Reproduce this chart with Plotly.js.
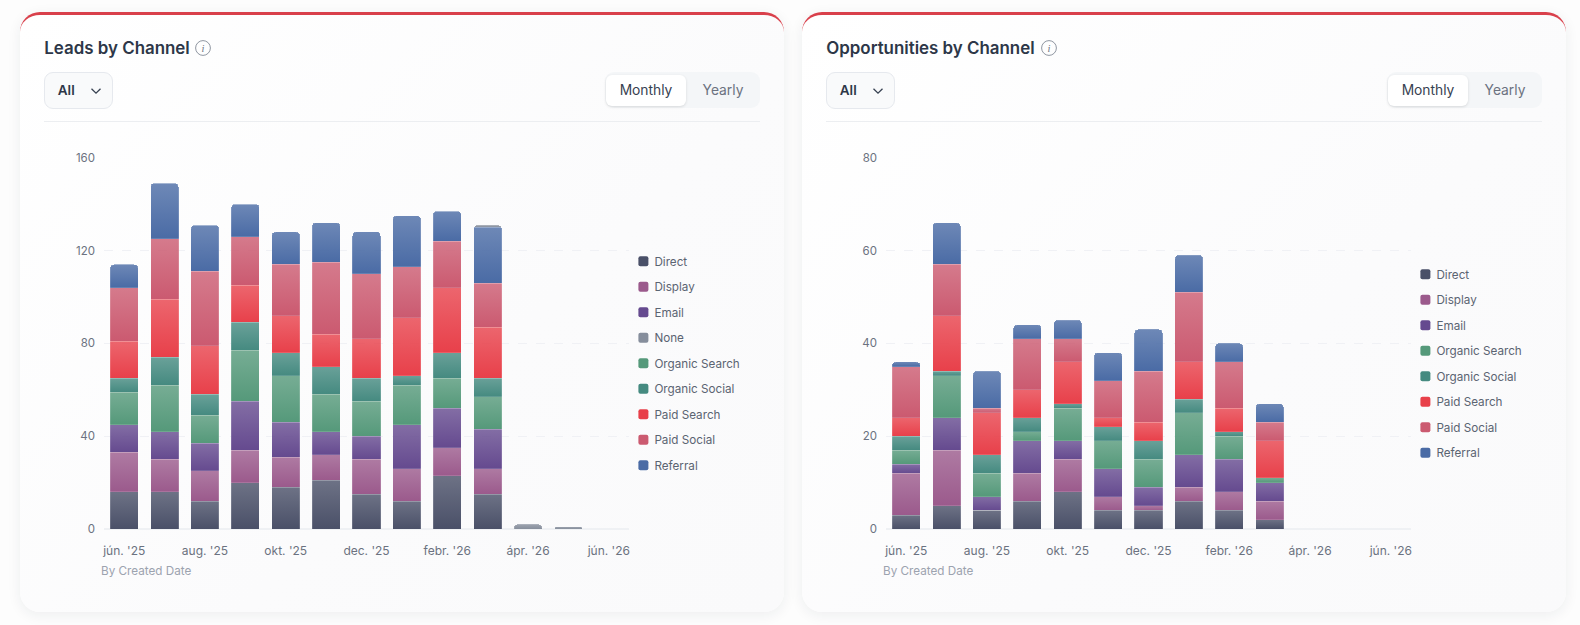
<!DOCTYPE html>
<html><head><meta charset="utf-8">
<script src="https://cdn.plot.ly/plotly-3.0.1.min.js"></script>
<style>
html,body{margin:0;padding:0;width:1580px;height:625px;overflow:hidden;background:#fdfdfd;font-family:Inter,sans-serif}
.card{position:absolute;top:12px;width:764px;height:600px;box-sizing:border-box;border-top:3px solid #d9404b;border-radius:20px;background:linear-gradient(135deg,#ffffff 0%,#fbfbfc 60%,#fafafb 100%);box-shadow:0 3px 14px rgba(30,41,59,.07)}
.plot{position:absolute;top:0;width:782px;height:625px}
.info{position:absolute;top:40px;width:16px;height:16px}
.dd{position:absolute;top:72px;width:68.5px;height:36.5px;box-sizing:border-box;border:1px solid #e6e9ee;border-radius:9px;background:#f9fafb;color:#2d3748;font-size:13.5px;font-weight:600;line-height:34px;padding-left:12.5px}
.dd svg{position:absolute;left:45px;top:12px}
.rule{position:absolute;top:121px;width:716px;height:1px;background:#eceef1}
.tog{position:absolute;top:72px;width:155px;height:36px;border-radius:9px;background:#f4f6f8}
.tog .on{position:absolute;left:1px;top:3px;width:80px;height:31px;border-radius:6px;background:#fff;box-shadow:0 1px 3px rgba(0,0,0,.12);text-align:center;line-height:31px;font-size:13.8px;color:#374151;font-weight:400}
.tog .off{position:absolute;left:82px;top:3px;width:72px;text-align:center;line-height:31px;font-size:13.8px;color:#6b7280;font-weight:400}
</style></head><body>
<div class="card" style="left:20px"></div>
<div class="card" style="left:802px"></div>
<div id="chrome"></div>
<div id="p1" class="plot" style="left:0"></div>
<div id="p2" class="plot" style="left:782px"></div>
<script>
const months = ["jún. '25","júl. '25","aug. '25","szept. '25","okt. '25","nov. '25","dec. '25","jan. '26","febr. '26","márc. '26","ápr. '26","máj. '26","jún. '26"];
const tickMonths = ["jún. '25","aug. '25","okt. '25","dec. '25","febr. '26","ápr. '26","jún. '26"];

const leadsDirect        = [16,16,12,20,18,21,15,12,23,15,0,0,0];
const leadsDisplay       = [17,14,13,14,13,11,15,14,12,11,0,0,0];
const leadsEmail         = [12,12,12,21,15,10,10,19,17,17,0,0,0];
const leadsOrganicSearch = [14,20,12,22,20,16,15,17,13,14,0,0,0];
const leadsOrganicSocial = [6,12,9,12,10,12,10,4,11,8,0,0,0];
const leadsPaidSearch    = [16,25,21,16,16,14,17,25,28,22,0,0,0];
const leadsPaidSocial    = [23,26,32,21,22,31,28,22,20,19,0,0,0];
const leadsReferral      = [10,24,20,14,14,17,18,22,13,24,0,0,0];
const leadsNone          = [0,0,0,0,0,0,0,0,0,1,2,1,0];

const oppDirect        = [3,5,4,6,8,4,4,6,4,2,0,0,0];
const oppDisplay       = [9,12,0,6,7,3,1,3,4,4,0,0,0];
const oppEmail         = [2,7,3,7,4,6,4,7,7,4,0,0,0];
const oppOrganicSearch = [3,9,5,2,7,6,6,9,5,1,0,0,0];
const oppOrganicSocial = [3,1,4,3,1,3,4,3,1,0,0,0,0];
const oppPaidSearch    = [4,12,9,6,9,2,4,8,5,8,0,0,0];
const oppPaidSocial    = [11,11,1,11,5,8,11,15,10,4,0,0,0];
const oppReferral      = [1,9,8,3,4,6,9,8,4,4,0,0,0];

const colors = {Direct:"#4a5068",Display:"#9b5a8c",Email:"#654a8f","Organic Search":"#55997a","Organic Social":"#458a80","Paid Search":"#e8404a","Paid Social":"#cb5a70",Referral:"#4a6ba5",None:"#868e9c"};
const fontFam = "Inter, sans-serif";

function mk(name,y,rank){return {type:"bar",name:name,x:months,y:y,legendgroup:name,legendrank:rank,
  marker:{color:colors[name],line:{color:"rgba(255,255,255,0.3)",width:0.5}},hoverinfo:"skip"};}

function layout(title,ymax,dtick,legY,legX){return {
  width:782,height:625,paper_bgcolor:"rgba(0,0,0,0)",plot_bgcolor:"rgba(0,0,0,0)",
  margin:{l:103.8,r:153.4,t:156.6,b:95.7,pad:0},barmode:"stack",bargap:0.306,barcornerradius:4,
  title:{text:title,x:44.3/782,xanchor:"left",xref:"container",y:1-47.7/625,yanchor:"middle",yref:"container",font:{family:fontFam,size:16.9,weight:600,color:"#2d3748"}},
  xaxis:{type:"category",categoryorder:"array",categoryarray:months,range:[-0.5,12.5],tickmode:"array",tickvals:tickMonths,ticktext:tickMonths,tickangle:0,showgrid:false,showline:false,zeroline:false,ticks:"",ticklabelstandoff:13,tickfont:{family:fontFam,size:12,color:"#6b7280"}},
  yaxis:{range:[0,ymax*1.002],tickmode:"linear",tick0:0,dtick:dtick,showgrid:true,griddash:"dash",gridcolor:"#f0f1f5",gridwidth:1,zeroline:true,zerolinecolor:"#eff1f4",zerolinewidth:1.5,showline:false,ticks:"",ticklabelstandoff:8,tickfont:{family:fontFam,size:11.5,color:"#6b7280"}},
  showlegend:true,
  legend:{x:legX,xanchor:"left",y:legY,yanchor:"top",traceorder:"grouped",tracegroupgap:6.5,bgcolor:"rgba(0,0,0,0)",font:{family:fontFam,size:11.7,color:"#5b6472"},itemclick:false,itemdoubleclick:false},
  annotations:[{text:"By Created Date",xref:"paper",yref:"paper",x:(99-103.8)/524.8,xanchor:"left",y:(529.3-571)/372,yanchor:"middle",showarrow:false,font:{family:fontFam,size:11.7,color:"#9ca3af"}}]
};}

function dress(id,div){
  const svg=div.querySelector(".main-svg");
  const NS="http://www.w3.org/2000/svg";
  const defs=svg.querySelector("defs")||svg.appendChild(document.createElementNS(NS,"defs"));
  div.querySelectorAll(".barlayer .trace").forEach((tr,i)=>{
    const c=div.data[i].marker.color,g=document.createElementNS(NS,"linearGradient"),gid=id+"-g"+i;
    g.setAttribute("id",gid);g.setAttribute("x1","0");g.setAttribute("y1","0");g.setAttribute("x2","0");g.setAttribute("y2","1");
    [["0%",0.8],["100%",1]].forEach(s=>{const e=document.createElementNS(NS,"stop");e.setAttribute("offset",s[0]);e.setAttribute("stop-color",c);e.setAttribute("stop-opacity",s[1]);g.appendChild(e);});
    defs.appendChild(g);
    tr.querySelectorAll(".point path").forEach(p=>{p.style.fill="url(#"+gid+")";p.style.fillOpacity=1;});
  });
  div.querySelectorAll(".legendbar path, .legendundefined path, .legendpoints path").forEach(p=>{
    p.setAttribute("d","M6,-5H12A2,2 0 0 1 14,-3V3A2,2 0 0 1 12,5H6A2,2 0 0 1 4,3V-3A2,2 0 0 1 6,-5Z");
    p.style.strokeWidth=0;
  });
}

const cfg={displayModeBar:false,staticPlot:false};
const t1=[mk("Direct",leadsDirect,1),mk("Display",leadsDisplay,2),mk("Email",leadsEmail,3),mk("Organic Search",leadsOrganicSearch,5),mk("Organic Social",leadsOrganicSocial,6),mk("Paid Search",leadsPaidSearch,7),mk("Paid Social",leadsPaidSocial,8),mk("Referral",leadsReferral,9),mk("None",leadsNone,4)];
const t2=[mk("Direct",oppDirect,1),mk("Display",oppDisplay,2),mk("Email",oppEmail,3),mk("Organic Search",oppOrganicSearch,5),mk("Organic Social",oppOrganicSocial,6),mk("Paid Search",oppPaidSearch,7),mk("Paid Social",oppPaidSocial,8),mk("Referral",oppReferral,9)];
Plotly.newPlot("p1",t1,layout("Leads by Channel",160,40,(529.3-247)/372,(614-103.8)/524.8),cfg).then(d=>dress("a",d));
Plotly.newPlot("p2",t2,layout("Opportunities by Channel",80,20,(529.3-260)/372,(1396-885.8)/524.8),cfg).then(d=>dress("b",d));

const chev='<svg width="12" height="12" viewBox="0 0 12 12"><path d="M1.5 3.8L6 8.2L10.5 3.8" fill="none" stroke="#374151" stroke-width="1.3"/></svg>';
let h="";
[[0,203],[782,266.5]].forEach(o=>{
  const dx=o[0];
  h+=`<svg class="info" style="left:${dx+o[1]-8}px" viewBox="0 0 16 16"><circle cx="8" cy="8" r="7.4" fill="none" stroke="#8f96a1" stroke-width="1"/><text x="8" y="11.6" text-anchor="middle" font-size="10.5" font-style="italic" font-family="Liberation Serif" fill="#6f7681">i</text></svg>`;
  h+=`<div class="dd" style="left:${44.3+dx}px">All${chev}</div>`;
  h+=`<div class="rule" style="left:${44+dx}px"></div>`;
  h+=`<div class="tog" style="left:${605+dx}px"><div class="on">Monthly</div><div class="off">Yearly</div></div>`;
});
document.getElementById("chrome").innerHTML=h;
</script>
</body></html>
